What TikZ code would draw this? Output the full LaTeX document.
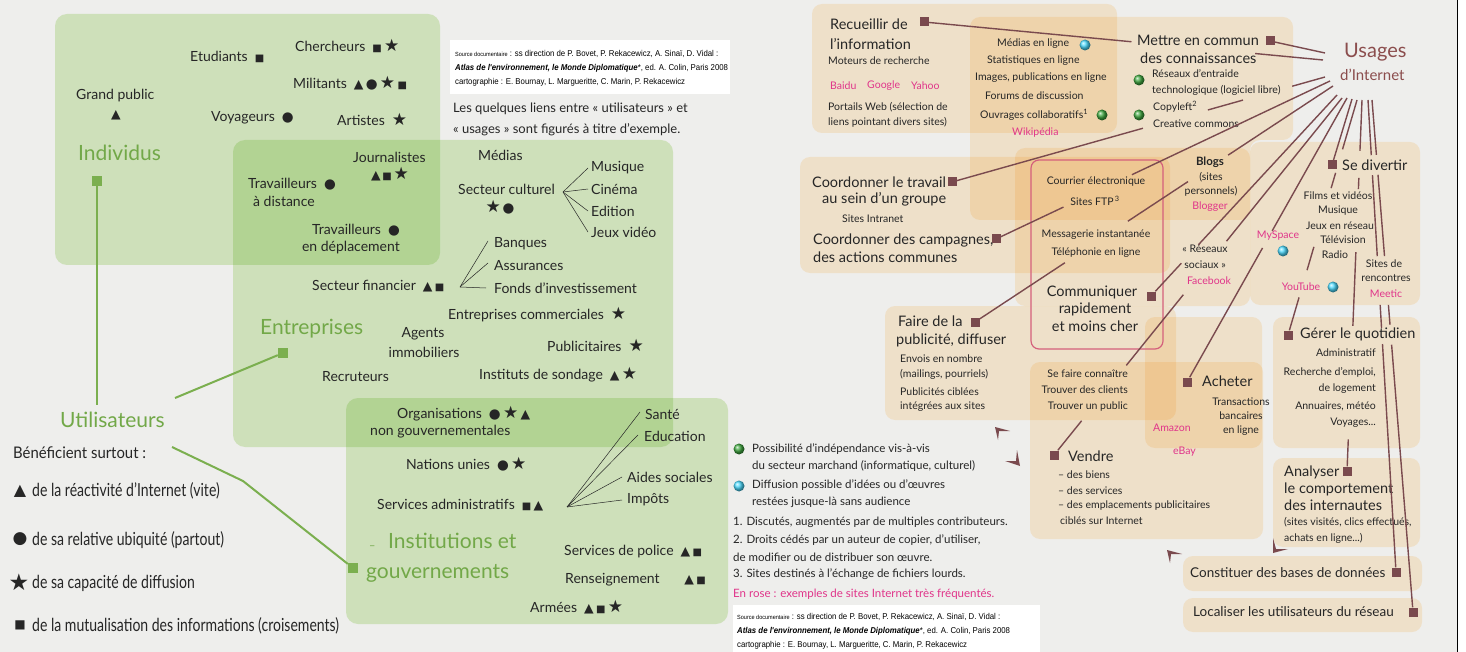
\documentclass[tikz,border=0pt]{standalone}
\usepackage{fontspec}
\usepackage{graphicx}
\setmainfont{Lato}
\newfontfamily\symf{DejaVu Sans}
\newfontfamily\srcf{Liberation Sans}
\usetikzlibrary{calc}
\definecolor{pagebg}{HTML}{EEEEEC}
\definecolor{gbox}{HTML}{DDF1CA}
\definecolor{tbox}{HTML}{FFF1DA}
\definecolor{gtext}{HTML}{72A848}
\definecolor{gline}{HTML}{7BAF4F}
\definecolor{brn}{HTML}{7A4A4E}
\definecolor{pinkt}{HTML}{E0358A}
\definecolor{pinkb}{HTML}{D4607C}
\definecolor{txt}{HTML}{262626}
\definecolor{usg}{HTML}{8B4D4D}
\newcommand\Stri{{\symf\fontsize{12.5}{10}\selectfont ▲}}
\newcommand\Scir{{\symf\fontsize{13.5}{10}\selectfont ●}}
\newcommand\Ssta{{\symf\fontsize{17}{10}\selectfont ★}}
\newcommand\Ssqu{{\symf\fontsize{10}{10}\selectfont ■}}
\tikzset{
 tx/.style={inner sep=0pt, anchor=west, text=txt, font=\fontsize{14}{16}\selectfont},
 txs/.style={inner sep=0pt, anchor=west, text=txt, font=\fontsize{10.5}{12}\selectfont},
 txl/.style={inner sep=0pt, anchor=west, text=txt, font=\fontsize{11.5}{13}\selectfont},
 txm/.style={inner sep=0pt, anchor=west, text=txt, font=\fontsize{14.5}{17}\selectfont},
 gt/.style={inner sep=0pt, anchor=west, text=gtext, font=\fontsize{21}{24}\selectfont},
 pk/.style={inner sep=0pt, anchor=west, text=pinkt, font=\fontsize{10.5}{12}\selectfont},
 lg/.style={inner sep=0pt, anchor=west, text=txt, font=\fontsize{18}{20}\selectfont},
 src/.style={inner sep=0pt, anchor=west, text=black, font=\srcf\fontsize{8.5}{10}\selectfont},
 sy/.style={inner sep=0pt, text=txt},
 gbx/.style={fill=gbox, rounded corners=12pt},
 tbx/.style={fill=tbox, rounded corners=10pt},
 gsq/.style={fill=gline, minimum size=10pt, inner sep=0pt},
 bsq/.style={fill=brn, minimum size=9pt, inner sep=0pt},
 gl/.style={draw=gline, line width=2pt},
 ul/.style={draw=brn, line width=1.4pt},
 fan/.style={draw=txt, line width=0.5pt},
 gball/.style={circle, inner sep=0pt, minimum size=11pt, ball color=green!55!black!75},
 bball/.style={circle, inner sep=0pt, minimum size=11pt, ball color=cyan!80!blue!70},
 cmark/.style={fill=brn},
}
\begin{document}
\begin{tikzpicture}[x=1pt,y=-1pt]
\useasboundingbox (0,0) rectangle (1466,652);
\fill[pagebg] (0,0) rectangle (1466,652);
\fill[white] (1458,0) rectangle (1466,652);
\draw[black, line width=1.2pt] (1457.5,0) -- (1457.5,652);
% ---------- boxes ----------
\begin{scope}[blend mode=multiply]
\path[gbx] (55,14) rectangle (440,265);
\path[gbx] (233,140) rectangle (673,447);
\path[gbx] (346,398) rectangle (728,624);
\path[tbx] (812,4) rectangle (1117,133);
\path[tbx] (970,17) -- (1293,17) -- (1293,140) -- (1250,140) -- (1250,220) -- (970,220) -- cycle;
\path[tbx] (800,157) rectangle (1170,273);
\path[tbx] (1015,148) rectangle (1250,306);
\path[tbx] (1250,142) rectangle (1420,305);
\path[tbx] (885,306) rectangle (1176,420);
\path[tbx] (1030,362) rectangle (1263,539);
\path[tbx] (1145,317) rectangle (1262,448);
\path[tbx] (1273,317) rectangle (1420,448);
\path[tbx] (1273,458) rectangle (1420,547);
\path[tbx] (1183,556) rectangle (1422,591);
\path[tbx] (1183,598) rectangle (1422,632);
\end{scope}
\draw[pinkb, line width=1.2pt, rounded corners=8pt] (1031,160) rectangle (1163,349);
% ---------- source boxes ----------
\fill[white] (450,40) rectangle (730,94);
\node[src] (s1a) at (455,54) {\scalebox{0.92}[1]{{\fontsize{6}{7}\selectfont Source documentaire} : ss direction de P. Bovet, P. Rekacewicz, A. Sinaï, D. Vidal :}};
\node[src] (s1b) at (455,68) {\scalebox{0.92}[1]{\textbf{\textit{Atlas de l'environnement, le Monde Diplomatique}}*, ed. A. Colin, Paris 2008}};
\node[src] (s1c) at (455,82) {\scalebox{0.92}[1]{cartographie : E. Bournay, L. Margueritte, C. Marin, P. Rekacewicz}};
\fill[white] (733,605) rectangle (1040,652);
\node[src] (s2a) at (737,617) {\scalebox{0.92}[1]{{\fontsize{6}{7}\selectfont Source documentaire} : ss direction de P. Bovet, P. Rekacewicz, A. Sinaï, D. Vidal :}};
\node[src] (s2b) at (737,631) {\scalebox{0.92}[1]{\textbf{\textit{Atlas de l'environnement, le Monde Diplomatique}}*, ed. A. Colin, Paris 2008}};
\node[src] (s2c) at (737,645) {\scalebox{0.92}[1]{cartographie : E. Bournay, L. Margueritte, C. Marin, P. Rekacewicz}};
\node[txl, font=\fontsize{13}{15}\selectfont] (note1) at (453,109) {Les quelques liens entre « utilisateurs » et};
\node[txl, font=\fontsize{13}{15}\selectfont] (note2) at (453,130) {« usages » sont figurés à titre d’exemple.};
% ---------- left : utilisateurs ----------
\node[tx] (chr) at (295,46) {Chercheurs\enspace\Ssqu\,\Ssta};
\node[tx] (etu) at (190,57) {Etudiants\enspace\Ssqu};
\node[tx] (mil) at (293,83) {Militants\enspace\Stri\,\Scir\,\Ssta\,\Ssqu};
\node[tx] (grp) at (76,96) {Grand public};
\node[sy] (grpS) at (116,115) {\Stri};
\node[tx] (voy) at (211,118) {Voyageurs\enspace\Scir};
\node[tx] (art) at (337,119) {Artistes\enspace\Ssta};
\node[gt] (ind) at (78,153) {Individus};
\node[gsq] (indq) at (97,181) {};
\node[tx] (jou) at (353,157) {Journalistes};
\node[sy] (jouS) at (390,174) {\Stri\,\Ssqu\,\Ssta};
\node[tx] (trd1) at (248,184) {Travailleurs\enspace\Scir};
\node[tx] (trd2) at (253,201) {à distance};
\node[tx, anchor=east] (trp1) at (400,230) {Travailleurs\enspace\Scir};
\node[tx, anchor=east] (trp2) at (400,248) {en déplacement};
\node[tx] (med) at (478,155) {Médias};
\node[tx] (cul) at (458,189) {Secteur culturel};
\node[sy] (culS) at (500,207) {\Ssta\,\Scir};
\coordinate (culf) at (563,192);
\node[tx] (mus) at (591,168) {Musique};
\node[tx] (cin) at (591,189) {Cinéma};
\node[tx] (edi) at (591,211) {Edition};
\node[tx] (jeu) at (591,232) {Jeux vidéo};
\node[tx] (ban) at (494,244) {Banques};
\node[tx] (ass) at (494,266) {Assurances};
\node[tx] (fon) at (494,288) {Fonds d’investissement};
\node[tx] (fin) at (312,286) {Secteur financier\enspace\Stri\,\Ssqu};
\coordinate (finf) at (460,287);
\node[tx] (com) at (448,315) {Entreprises commerciales\enspace\Ssta};
\node[gt] (ent) at (260,329) {Entreprises};
\node[gsq] (entq) at (283,353) {};
\node[tx, anchor=center] (agt1) at (423,334) {Agents};
\node[tx, anchor=center] (agt2) at (424,352) {immobiliers};
\node[tx] (pub) at (547,345) {Publicitaires\enspace\Ssta};
\node[tx] (rec) at (322,377) {Recruteurs};
\node[tx] (ins) at (479,375) {Instituts de sondage\enspace\Stri\,\Ssta};
\node[tx] (ong1) at (397,414) {Organisations\enspace\Scir\,\Ssta\,\Stri};
\node[tx] (ong2) at (370,432) {non gouvernementales};
\node[tx] (nu) at (406,464) {Nations unies\enspace\Scir\,\Ssta};
\node[tx] (adm) at (377,505) {Services administratifs\enspace\Ssqu\,\Stri};
\coordinate (admf) at (567,507);
\node[tx] (san) at (645,414) {Santé};
\node[tx] (edu) at (644,436) {Education};
\node[tx] (aid) at (627,477) {Aides sociales};
\node[tx] (imp) at (627,500) {Impôts};
\node[gt] (ig1) at (388,541) {Institutions et};
\node[gt] (ig2) at (366,573) {gouvernements};
\node[tx, text=gtext, font=\fontsize{11}{12}\selectfont] (igd) at (369,548) {–};
\node[gsq] (igq) at (353,568) {};
\node[tx] (pol) at (564,552) {Services de police\enspace\Stri\,\Ssqu};
\node[tx] (ren) at (565,580) {Renseignement};
\node[tx, anchor=east] (renS) at (706,580) {\Stri\,\Ssqu};
\node[tx] (arm) at (530,607) {Armées\enspace\Stri\,\Ssqu\,\Ssta};
\node[gt] (uti) at (60,420) {Utilisateurs};
\node[lg, font=\fontsize{16}{18}\selectfont] (ben) at (13,453) {\scalebox{0.93}[1]{Bénéficient surtout :}};
\node[sy, font=\fontsize{16}{16}\selectfont] (lgs1) at (20,491) {\symf ▲};
\node[sy, font=\fontsize{17}{16}\selectfont] (lgs2) at (20,539) {\symf ●};
\node[sy, font=\fontsize{23}{16}\selectfont] (lgs3) at (19,582) {\symf ★};
\node[sy, font=\fontsize{12}{12}\selectfont] (lgs4) at (20,625) {\symf ■};
\node[lg] (lg1) at (32,491) {\scalebox{0.78}[1]{de la réactivité d’Internet (vite)}};
\node[lg] (lg2) at (32,540) {\scalebox{0.78}[1]{de sa relative ubiquité (partout)}};
\node[lg] (lg3) at (32,583) {\scalebox{0.78}[1]{de sa capacité de diffusion}};
\node[lg] (lg4) at (32,626) {\scalebox{0.78}[1]{de la mutualisation des informations (croisements)}};
% left connectors
\coordinate (utiT) at (97,405);
\coordinate (utiR) at (175,398);
\coordinate (utiB) at (172,447);
\coordinate (igb) at (243,481);
\draw[gl] (indq) -- (utiT);
\draw[gl] (entq) -- (utiR);
\draw[gl] (utiB) -- (igb) -- (igq);
\draw[fan] (culf) -- ([xshift=-3pt]mus.west);
\draw[fan] (culf) -- ([xshift=-3pt]cin.west);
\draw[fan] (culf) -- ([xshift=-3pt]edi.west);
\draw[fan] (culf) -- ([xshift=-3pt]jeu.west);
\draw[fan] (finf) -- ([xshift=-6pt,yshift=3pt]ban.west);
\draw[fan] (finf) -- ([xshift=-6pt,yshift=3pt]ass.west);
\draw[fan] (finf) -- ([xshift=-8pt]fon.west);
\draw[fan] (admf) -- ([xshift=-5pt,yshift=2pt]san.west);
\draw[fan] (admf) -- ([xshift=-6pt,yshift=1pt]edu.west);
\draw[fan] (admf) -- ([xshift=-5pt]aid.west);
\draw[fan] (admf) -- ([xshift=-5pt]imp.west);
% ---------- middle legend ----------
\node[gball] (lgb1) at (739,449) {};
\node[txl] (lt1) at (752,449) {Possibilité d’indépendance vis-à-vis};
\node[txl] (lt2) at (752,466) {du secteur marchand (informatique, culturel)};
\node[bball] (lgb2) at (739,486) {};
\node[txl] (lt3) at (752,485) {Diffusion possible d’idées ou d’œuvres};
\node[txl] (lt4) at (752,502) {restées jusque-là sans audience};
\node[txl] (lt5) at (733,522) {1. Discutés, augmentés par de multiples contributeurs.};
\node[txl] (lt6) at (733,540) {2. Droits cédés par un auteur de copier, d’utiliser,};
\node[txl] (lt7) at (733,557) {de modifier ou de distribuer son œuvre.};
\node[txl] (lt8) at (733,574) {3. Sites destinés à l’échange de fichiers lourds.};
\node[txl, text=pinkt] (lt9) at (733,594) {En rose : exemples de sites Internet très fréquentés.};
% ---------- right : usages ----------
\node[inner sep=0pt, anchor=west, text=usg, font=\fontsize{20}{22}\selectfont] (usa) at (1344,52) {Usages};
\node[inner sep=0pt, anchor=west, text=usg, font=\fontsize{15}{17}\selectfont] (usb) at (1340,75) {d’Internet};
\node[txm] (rc1) at (830,24) {Recueillir de};
\node[txm] (rc2) at (830,44) {l’information};
\node[bsq] (rq) at (924,22) {};
\node[txs] (rc3) at (828,61) {Moteurs de recherche};
\node[pk] (bai) at (830,86) {Baidu};
\node[pk] (goo) at (867,86) {Google};
\node[pk] (yah) at (911,86) {Yahoo};
\node[txs] (rc4) at (828,107) {Portails Web (sélection de};
\node[txs] (rc5) at (828,122) {liens pointant divers sites)};
\node[txs] (mt1) at (997,44) {Médias en ligne};
\node[bball] (mtb1) at (1085,45) {};
\node[txs] (mt2) at (987,61) {Statistiques en ligne};
\node[txs] (mt3) at (975,78) {Images, publications en ligne};
\node[txs] (mt4) at (985,96) {Forums de discussion};
\node[txs] (mt5) at (980,115) {Ouvrages collaboratifs\textsuperscript{1}};
\node[gball] (mtb2) at (1102,115) {};
\node[pk] (wik) at (1012,133) {Wikipédia};
\node[txm] (me1) at (1137,40) {Mettre en commun};
\node[bsq] (mq) at (1270,41) {};
\node[txm] (me2) at (1140,58) {des connaissances};
\node[gball] (meb1) at (1139,80) {};
\node[txs] (me3) at (1152,74) {Réseaux d’entraide};
\node[txs] (me4) at (1152,90) {technologique (logiciel libre)};
\node[gball] (meb2) at (1139,115) {};
\node[txs] (me5) at (1153,107) {Copyleft\textsuperscript{2}};
\node[txs] (me6) at (1153,124) {Creative commons};
\node[txm] (ct1) at (812,182) {Coordonner le travail};
\node[bsq] (ctq) at (952,182) {};
\node[txm] (ct2) at (822,199) {au sein d’un groupe};
\node[txs] (ct3) at (842,219) {Sites Intranet};
\node[txm] (cc1) at (813,240) {Coordonner des campagnes,};
\node[bsq] (ccq) at (996,239) {};
\node[txm] (cc2) at (813,257) {des actions communes};
\node[txs, anchor=center] (cm1) at (1096,182) {Courrier électronique};
\node[txs, anchor=center] (cm2) at (1095,201) {Sites FTP\textsuperscript{\,3}};
\node[txs, anchor=center] (cm3) at (1096,235) {Messagerie instantanée};
\node[txs, anchor=center] (cm4) at (1096,253) {Téléphonie en ligne};
\node[txm, anchor=center] (cm5) at (1092,292) {Communiquer};
\node[txm, anchor=center] (cm6) at (1095,309) {rapidement};
\node[txm, anchor=center] (cm7) at (1095,326) {et moins cher};
\node[bsq] (cmq) at (1151,296) {};
\node[txs, anchor=center, font=\bfseries\fontsize{11.5}{13}\selectfont] (bl1) at (1210,162) {Blogs};
\node[txs, anchor=center] (bl2) at (1211,177) {(sites};
\node[txs, anchor=center] (bl3) at (1211,191) {personnels)};
\node[pk, anchor=center] (bl4) at (1210,207) {Blogger};
\node[txs, anchor=center] (rs1) at (1205,249) {« Réseaux};
\node[txs, anchor=center] (rs2) at (1205,265) {sociaux »};
\node[pk, anchor=center] (rs3) at (1209,281) {Facebook};
\node[pk, anchor=center] (msp) at (1278,236) {MySpace};
\node[bball] (mspb) at (1283,251) {};
\node[bsq] (sdq) at (1332,165) {};
\node[txm] (sd1) at (1342,165) {Se divertir};
\node[txs, anchor=center] (sd2) at (1338,196) {Films et vidéos};
\node[txs, anchor=center] (sd3) at (1338,211) {Musique};
\node[txs, anchor=center] (sd4) at (1340,226) {Jeux en réseau};
\node[txs, anchor=center] (sd5) at (1343,240) {Télévision};
\node[txs, anchor=center] (sd6) at (1335,255) {Radio};
\node[pk, anchor=center] (yt) at (1301,287) {YouTube};
\node[bball] (ytb) at (1333,287) {};
\node[txs, anchor=center] (sr1) at (1384,264) {Sites de};
\node[txs, anchor=center] (sr2) at (1386,278) {rencontres};
\node[pk, anchor=center] (sr3) at (1386,294) {Meetic};
\node[txm] (fp1) at (898,321) {Faire de la};
\node[bsq] (fpq) at (975,322) {};
\node[txm] (fp2) at (896,340) {publicité, diffuser};
\node[txs] (fp3) at (900,359) {Envois en nombre};
\node[txs] (fp4) at (900,374) {(mailings, pourriels)};
\node[txs] (fp5) at (900,392) {Publicités ciblées};
\node[txs] (fp6) at (900,407) {intégrées aux sites};
\node[txs, anchor=east] (sf1) at (1128,374) {Se faire connaître};
\node[txs, anchor=east] (sf2) at (1128,390) {Trouver des clients};
\node[txs, anchor=east] (sf3) at (1128,407) {Trouver un public};
\node[bsq] (vdq) at (1054,455) {};
\node[txm] (vd1) at (1068,456) {Vendre};
\node[txs] (vd2) at (1058,475) {– des biens};
\node[txs] (vd3) at (1058,491) {– des services};
\node[txs] (vd4) at (1058,506) {– des emplacements publicitaires};
\node[txs] (vd5) at (1060,521) {ciblés sur Internet};
\node[pk] (amz) at (1153,428) {Amazon};
\node[pk] (eba) at (1173,452) {eBay};
\node[bsq] (acq) at (1187,382) {};
\node[txm] (ac1) at (1202,381) {Acheter};
\node[txs, anchor=center] (ac2) at (1241,402) {Transactions};
\node[txs, anchor=center] (ac3) at (1241,416) {bancaires};
\node[txs, anchor=center] (ac4) at (1241,431) {en ligne};
\node[bsq] (gqq) at (1288,335) {};
\node[txm] (gq1) at (1300,334) {Gérer le quotidien};
\node[txs, anchor=east] (gq2) at (1376,353) {Administratif};
\node[txs, anchor=east] (gq3) at (1376,372) {Recherche d’emploi,};
\node[txs, anchor=east] (gq4) at (1376,389) {de logement};
\node[txs, anchor=east] (gq5) at (1376,406) {Annuaires, météo};
\node[txs, anchor=east] (gq6) at (1376,423) {Voyages...};
\node[txm] (an1) at (1284,472) {Analyser};
\node[bsq] (anq) at (1347,471) {};
\node[txm] (an2) at (1284,489) {le comportement};
\node[txm] (an3) at (1284,505) {des internautes};
\node[txs] (an4) at (1284,522) {(sites visités, clics effectués,};
\node[txs] (an5) at (1284,538) {achats en ligne...)};
\node[txm, font=\fontsize{13.5}{16}\selectfont] (cb1) at (1190,573) {Constituer des bases de données};
\node[bsq] (cbq) at (1396,572) {};
\node[txm, font=\fontsize{13.5}{16}\selectfont] (lu1) at (1193,612) {Localiser les utilisateurs du réseau};
\node[bsq] (luq) at (1413,612) {};
% usages fan start points
\coordinate (u1) at (1323,60);
\coordinate (u2) at (1325,53);
\coordinate (u3) at (1325,77);
\coordinate (u4) at (1330,81);
\coordinate (u5) at (1333,86);
\coordinate (u6) at (1337,95);
\coordinate (u7) at (1342,98);
\coordinate (u8) at (1347,98);
\coordinate (u9) at (1352,99);
\coordinate (u10) at (1357,100);
\coordinate (u11) at (1362,100);
\coordinate (u12) at (1368,100);
\coordinate (u13) at (1372,100);
\draw[ul] (u1) -- ($(u1)!0.17!(rq)$) ($(u1)!0.48!(rq)$) -- (rq);
\draw[ul] (u2) -- (mq);
\draw[ul] (u3) -- ($(u3)!0.088!(ctq)$) ($(u3)!0.22!(ctq)$) -- ($(u3)!0.314!(ctq)$) ($(u3)!0.488!(ctq)$) -- (ctq);
\draw[ul] (u4) -- ($(u4)!0.593!(ccq)$) ($(u4)!0.798!(ccq)$) -- (ccq);
\draw[ul] (u5) -- ($(u5)!0.293!(fpq)$) ($(u5)!0.405!(fpq)$) -- ($(u5)!0.573!(fpq)$) ($(u5)!0.749!(fpq)$) -- (fpq);
\draw[ul] (u6) -- ($(u6)!0.745!(cmq)$) ($(u6)!0.837!(cmq)$) -- (cmq);
\draw[ul] (u7) -- ($(u7)!0.401!(vdq)$) ($(u7)!0.551!(vdq)$) -- ($(u7)!0.749!(vdq)$) ($(u7)!0.904!(vdq)$) -- (vdq);
\draw[ul] (u8) -- ($(u8)!0.468!(acq)$) ($(u8)!0.528!(acq)$) -- (acq);
\draw[ul] (u9) -- (sdq);
\draw[ul] (u10) -- ($(u10)!0.21!(gqq)$) ($(u10)!0.31!(gqq)$) -- ($(u10)!0.375!(gqq)$) ($(u10)!0.625!(gqq)$) -- ($(u10)!0.724!(gqq)$) ($(u10)!0.84!(gqq)$) -- (gqq);
\draw[ul] (u11) -- ($(u11)!0.137!(anq)$) ($(u11)!0.21!(anq)$) -- ($(u11)!0.24!(anq)$) ($(u11)!0.41!(anq)$) -- ($(u11)!0.609!(anq)$) ($(u11)!0.915!(anq)$) -- (anq);
\draw[ul] (u12) -- ($(u12)!0.117!(cbq)$) ($(u12)!0.159!(cbq)$) -- ($(u12)!0.331!(cbq)$) ($(u12)!0.434!(cbq)$) -- ($(u12)!0.483!(cbq)$) ($(u12)!0.517!(cbq)$) -- (cbq);
\draw[ul] (u13) -- ($(u13)!0.107!(luq)$) ($(u13)!0.146!(luq)$) -- ($(u13)!0.305!(luq)$) ($(u13)!0.4!(luq)$) -- ($(u13)!0.439!(luq)$) ($(u13)!0.478!(luq)$) -- (luq);
% corner marks
\fill[cmark] (995,427) -- (1010,431) -- (999,431) -- (998,440) -- cycle;
\fill[cmark] (1020,466) -- (1005,461) -- (1016,461) -- (1017,450) -- cycle;
\fill[cmark] (1167,550) -- (1182,554) -- (1171,554) -- (1170,563) -- cycle;
\fill[cmark] (1273,553) -- (1273,538) -- (1276,549) -- (1288,549) -- cycle;
\end{tikzpicture}
\end{document}
